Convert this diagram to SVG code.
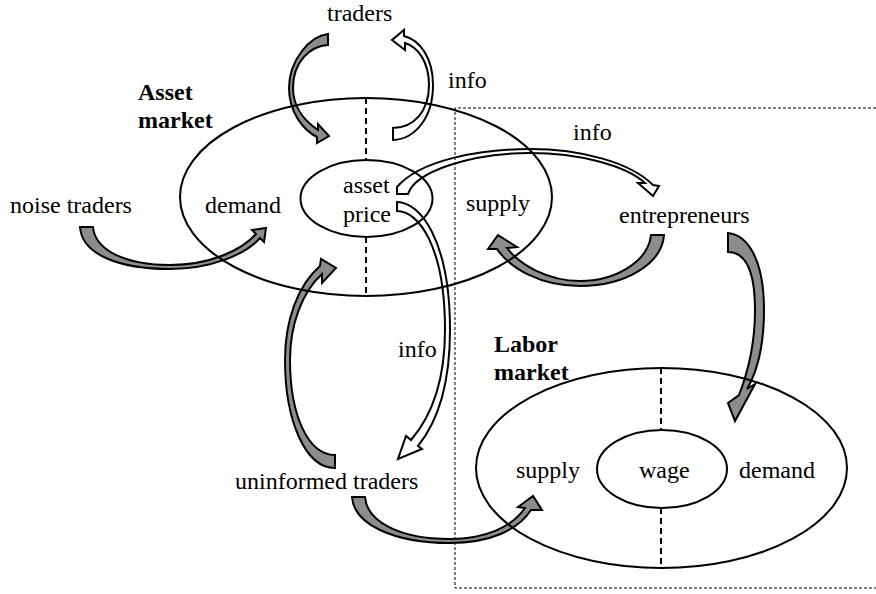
<svg xmlns="http://www.w3.org/2000/svg" width="876" height="594" viewBox="0 0 876 594">
  <style>
    text { font-family: "Liberation Serif", "Times New Roman", serif; font-size: 24px; fill: #000; }
    .b { font-weight: bold; }
    .ring { fill: none; stroke: #000; stroke-width: 2; }
    .split { stroke: #000; stroke-width: 2; stroke-dasharray: 6 4; }
    .frame { fill: none; stroke: #000; stroke-width: 1; stroke-dasharray: 3 2; }
    .flow { fill: #8c8c8c; stroke: #000; stroke-width: 2; stroke-linejoin: miter; }
    .info { fill: #fff; stroke: #000; stroke-width: 2; stroke-linejoin: miter; }
  </style>
  <rect width="876" height="594" fill="#fff"/>

  <!-- curved block arrows -->
  <g id="connectors">
    <!-- traders -> asset demand -->
    <path class="flow" d="M328 34 C310 36 289 60 289 88 C289 112 303 130 317 137 L317 143 L329 136 L318 124 L318 130 C306 122 293 108 293 88 C293 62 310 46 328 45 Z"/>
    <!-- asset market -> traders (info) -->
    <path class="info" d="M393 140 C415 139 433 118 433 85 C433 58 420 40 404 36 L404 30 L392 40 L405 50 L405 43 C418 47 429 62 429 85 C429 112 413 128 393 128 Z"/>
    <!-- asset price -> entrepreneurs (info) -->
    <path class="info" d="M397 194 L397 187 C420 160 480 149 530 149 C580 149 630 162 653 185 L659 186 L653 196 L638 183 L645 183 C625 165 578 153 530 153 C470 153 415 172 408 194 Z"/>
    <!-- asset price -> uninformed traders (info) -->
    <path class="info" d="M397 202 C420 202 450 240 450 330 C450 390 435 425 418 446 L422 449 L398 459 L406 436 L411 440 C430 418 445 385 445 330 C445 245 418 211 397 211 Z"/>
    <!-- uninformed traders -> asset demand -->
    <path class="flow" d="M335 468 C305 468 285 420 285 360 C285 320 298 285 320 266 L321 259 L336 268 L322 283 L322 274 C302 292 290 325 290 360 C290 415 308 455 335 455 Z"/>
    <!-- noise traders -> asset demand -->
    <path class="flow" d="M80 227 C82 255 120 269 170 269 C210 269 245 255 260 238 L264 242 L266 228 L252 230 L256 234 C242 250 210 265 170 265 C125 265 95 250 93 227 Z"/>
    <!-- entrepreneurs -> asset supply -->
    <path class="flow" d="M664 235 C662 264 625 286 580 286 C540 286 510 268 497 249 L488 249 L498 235 L517 247 L507 248 C520 265 548 281 580 281 C615 281 648 262 651 235 Z"/>
    <!-- entrepreneurs -> labor demand -->
    <path class="flow" d="M728 233 C748 235 764 260 764 310 C764 345 758 370 747 389 L755 384 L735 421 L728 403 L739 395 C748 372 755 345 755 310 C755 270 745 252 728 252 Z"/>
    <!-- uninformed traders -> labor supply -->
    <path class="flow" d="M352 497 C354 525 395 543 450 543 C490 543 518 530 531 510 L542 510 L533 496 L518 507 L525 508 C512 527 485 539 450 539 C400 539 367 522 365 497 Z"/>
  </g>

  <!-- labor side frame -->
  <path id="labor-frame" class="frame" d="M876 108 H455 V588 H876"/>

  <g id="asset-market">
    <ellipse class="ring" cx="366" cy="197" rx="186" ry="99"/>
    <line class="split" x1="366" y1="98" x2="366" y2="159"/>
    <line class="split" x1="366" y1="237" x2="366" y2="296"/>
    <text class="b" x="138" y="100">Asset</text>
    <text class="b" x="138" y="128">market</text>
    <text x="205" y="213">demand</text>
    <text x="466" y="211">supply</text>
  </g>

  <g id="asset-price">
    <ellipse class="ring" cx="366.5" cy="198.5" rx="66" ry="38.5"/>
    <text x="343" y="193">asset</text>
    <text x="343" y="222">price</text>
  </g>

  <g id="labor-market">
    <ellipse class="ring" cx="661.5" cy="468" rx="185.5" ry="100"/>
    <line class="split" x1="661" y1="368" x2="661" y2="430"/>
    <line class="split" x1="661" y1="508" x2="661" y2="568"/>
    <text class="b" x="494" y="352">Labor</text>
    <text class="b" x="494" y="380">market</text>
    <text x="516" y="478">supply</text>
    <text x="739" y="478">demand</text>
  </g>

  <g id="wage">
    <ellipse class="ring" cx="662" cy="469" rx="65" ry="39"/>
    <text x="639" y="478">wage</text>
  </g>

  <g id="traders"><text x="327" y="21">traders</text></g>
  <g id="noise-traders"><text x="10" y="213">noise traders</text></g>
  <g id="entrepreneurs"><text x="619" y="223">entrepreneurs</text></g>
  <g id="uninformed-traders"><text x="235" y="489">uninformed traders</text></g>

  <g id="info-labels">
    <text x="448" y="88">info</text>
    <text x="573" y="140">info</text>
    <text x="398" y="357">info</text>
  </g>
</svg>
